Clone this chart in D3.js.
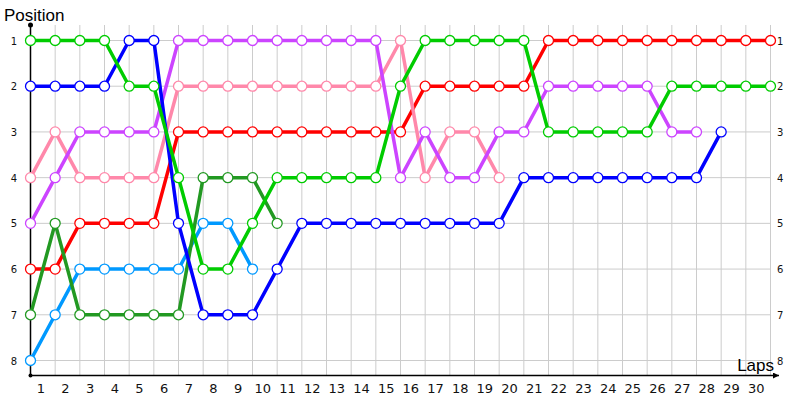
<!DOCTYPE html>
<html>
<head>
<meta charset="utf-8">
<script src="https://cdn.jsdelivr.net/npm/d3@7"></script>
<style>
  body { margin: 0; background: #fff; }
  text { font-family: "DejaVu Sans", sans-serif; }
</style>
</head>
<body>
<div id="chart"></div>
<script>
// laps 0..30 (0 = start grid)
var laps = d3.range(0, 31);
var positions = [1, 2, 3, 4, 5, 6, 7, 8];
var lapLabels = d3.range(1, 31);

// positions per driver, index = lap
var redPos       = [6,6,5,5,5,5,3,3,3,3,3,3,3,3,3,3,2,2,2,2,2,1,1,1,1,1,1,1,1,1,1];
var bluePos      = [2,2,2,2,1,1,5,7,7,7,6,5,5,5,5,5,5,5,5,5,4,4,4,4,4,4,4,4,3];
var lightBluePos = [8,7,6,6,6,6,6,5,5,6];
var pinkPos      = [4,3,4,4,4,4,2,2,2,2,2,2,2,2,2,1,4,3,3,4];
var purplePos    = [5,4,3,3,3,3,1,1,1,1,1,1,1,1,1,4,3,4,4,3,3,2,2,2,2,2,3,3];
var darkGreenPos = [7,5,7,7,7,7,7,4,4,4,5];
var greenPos     = [1,1,1,1,2,2,4,6,6,5,4,4,4,4,4,2,1,1,1,1,1,3,3,3,3,3,2,2,2,2,2];

var series = [
  {name: "red", color: "#ff0000", values: redPos},
  {name: "lightblue", color: "#0099ff", values: lightBluePos},
  {name: "darkgreen", color: "#229922", values: darkGreenPos},
  {name: "pink", color: "#ff88aa", values: pinkPos},
  {name: "purple", color: "#cc44ff", values: purplePos},
  {name: "blue", color: "#0000ff", values: bluePos},
  {name: "green", color: "#00cc00", values: greenPos}
];

var width = 800, height = 400;

var svg = d3.select("#chart")
  .append("svg")
  .attr("width", width)
  .attr("height", height);

var x = d3.scaleLinear().domain([0, 30]).range([30.5, 770.5]);
var y = d3.scaleLinear().domain([1, 8]).range([40.5, 360.5]);

// grid
var grid = svg.append("g").attr("stroke", "#cccccc").attr("stroke-width", 1);
grid.selectAll("line.v")
  .data(laps)
  .join("line")
  .attr("x1", d => x(d)).attr("x2", d => x(d))
  .attr("y1", 25).attr("y2", 375);
grid.selectAll("line.h")
  .data(positions)
  .join("line")
  .attr("class", "h")
  .attr("x1", x(0)).attr("x2", x(30))
  .attr("y1", d => y(d)).attr("y2", d => y(d));

// axes
svg.append("defs").append("marker")
  .attr("id", "arrow")
  .attr("viewBox", "0 0 10 10")
  .attr("refX", 10).attr("refY", 5)
  .attr("markerWidth", 10).attr("markerHeight", 6)
  .attr("markerUnits", "userSpaceOnUse")
  .attr("orient", "auto")
  .append("path")
  .attr("d", "M0,0 L10,5 L0,10 z")
  .attr("fill", "#000");

svg.append("line")
  .attr("x1", x(0)).attr("x2", 779)
  .attr("y1", 375.5).attr("y2", 375.5)
  .attr("stroke", "#000").attr("stroke-width", 1.5)
  .attr("marker-end", "url(#arrow)");
svg.append("line")
  .attr("x1", x(0)).attr("x2", x(0))
  .attr("y1", 25).attr("y2", 375.5)
  .attr("stroke", "#000").attr("stroke-width", 1.5);
svg.append("circle").attr("cx", x(0)).attr("cy", 25).attr("r", 2.5).attr("fill", "#000");
svg.append("circle").attr("cx", x(0)).attr("cy", 375.5).attr("r", 2).attr("fill", "#000");

// axis labels
svg.selectAll("text.xl")
  .data(lapLabels)
  .join("text")
  .attr("class", "xl")
  .attr("x", d => x(d - 0.5) - 2)
  .attr("y", 393)
  .attr("text-anchor", "middle")
  .attr("font-size", 13)
  .attr("fill", "#111")
  .text(d => d);

svg.selectAll("text.yl")
  .data(positions)
  .join("text")
  .attr("class", "yl")
  .attr("x", 14)
  .attr("y", d => y(d) + 4)
  .attr("text-anchor", "middle")
  .attr("font-size", 10)
  .attr("fill", "#111")
  .text(d => d);

svg.selectAll("text.yr")
  .data(positions)
  .join("text")
  .attr("class", "yr")
  .attr("x", 777)
  .attr("y", d => y(d) + 4)
  .attr("font-size", 10)
  .attr("fill", "#111")
  .text(d => d);

svg.append("text")
  .attr("x", 4).attr("y", 21)
  .attr("font-size", 17)
  .style("font-family", "'Liberation Sans', sans-serif")
  .text("Position");
svg.append("text")
  .attr("x", 774).attr("y", 371)
  .attr("text-anchor", "end")
  .attr("font-size", 17)
  .style("font-family", "'Liberation Sans', sans-serif")
  .text("Laps");

// lines + markers
var line = d3.line()
  .x((d, i) => x(i))
  .y(d => y(d));

var g = svg.selectAll("g.series")
  .data(series)
  .join("g")
  .attr("class", "series");

g.append("path")
  .attr("d", d => line(d.values))
  .attr("fill", "none")
  .attr("stroke", d => d.color)
  .attr("stroke-width", 3.5)
  .attr("stroke-linejoin", "round");

g.selectAll("circle")
  .data(d => d.values.map((v, i) => ({lap: i, pos: v, color: d.color})))
  .join("circle")
  .attr("cx", d => x(d.lap))
  .attr("cy", d => y(d.pos))
  .attr("r", 5)
  .attr("fill", "#fff")
  .attr("stroke", d => d.color)
  .attr("stroke-width", 1.3);
</script>
</body>
</html>
